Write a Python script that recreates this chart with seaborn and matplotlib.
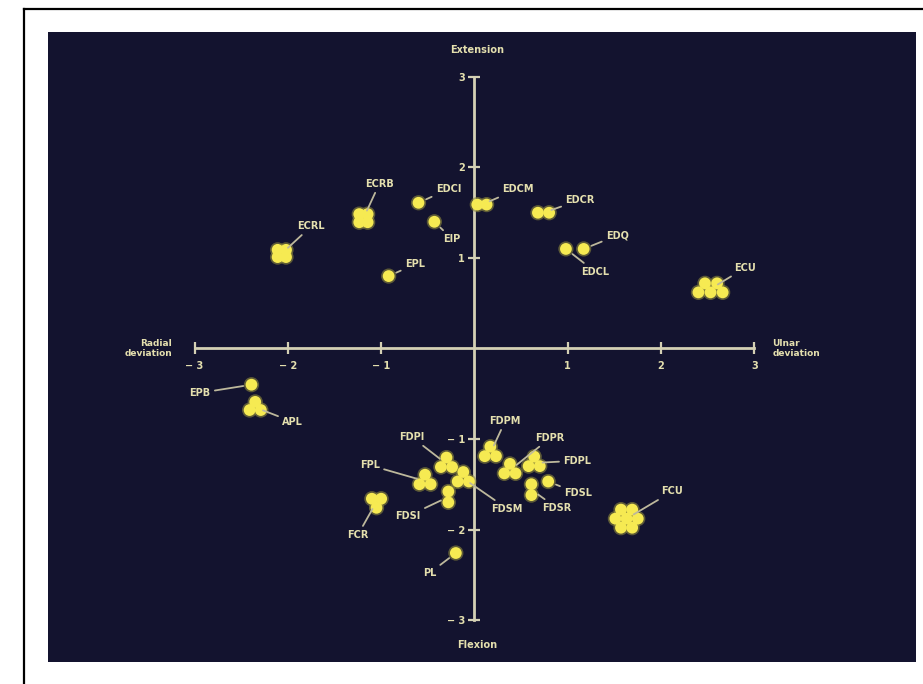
import numpy as np
import pandas as pd
import matplotlib
matplotlib.use("Agg")
import matplotlib.pyplot as plt
import seaborn as sns

# ---------------- data (one row per dot) ----------------
dot_muscle = (["ECRL"] * 4 + ["ECRB"] * 4 + ["EDCI", "EIP", "EPL"] + ["EDCM"] * 2 +
              ["EDCR"] * 2 + ["EDCL", "EDQ"] + ["ECU"] * 5 + ["EPB"] + ["APL"] * 3 +
              ["FDPI"] * 3 + ["FPL"] * 3 + ["FDSM"] * 3 + ["FDSI"] * 2 + ["FCR"] * 3 +
              ["PL"] + ["FDPM"] * 3 + ["FDPR"] * 3 + ["FDPL"] * 3 + ["FDSR"] * 2 +
              ["FDSL"] + ["FCU"] * 7)
dot_x = [-2.11, -2.02, -2.11, -2.02,
         -1.235, -1.145, -1.235, -1.145,
         -0.60, -0.43, -0.92,
         0.03, 0.13,
         0.68, 0.80,
         0.98, 1.17,
         2.47, 2.60, 2.40, 2.53, 2.66,
         -2.39,
         -2.35, -2.41, -2.29,
         -0.30, -0.36, -0.24,
         -0.53, -0.59, -0.47,
         -0.12, -0.18, -0.06,
         -0.28, -0.28,
         -1.10, -1.00, -1.05,
         -0.20,
         0.17, 0.11, 0.23,
         0.38, 0.32, 0.44,
         0.64, 0.58, 0.70,
         0.61, 0.61,
         0.79,
         1.75, 1.69, 1.57, 1.51, 1.57, 1.69, 1.63]
dot_y = [1.09, 1.09, 1.01, 1.01,
         1.485, 1.485, 1.395, 1.395,
         1.61, 1.40, 0.80,
         1.59, 1.59,
         1.50, 1.50,
         1.10, 1.10,
         0.72, 0.72, 0.62, 0.62, 0.62,
         -0.40,
         -0.59, -0.68, -0.68,
         -1.205, -1.31, -1.31,
         -1.395, -1.50, -1.50,
         -1.365, -1.47, -1.47,
         -1.58, -1.70,
         -1.66, -1.66, -1.76,
         -2.26,
         -1.085, -1.19, -1.19,
         -1.275, -1.38, -1.38,
         -1.195, -1.30, -1.30,
         -1.50, -1.62,
         -1.47,
         -1.88, -1.78, -1.78, -1.88, -1.98, -1.98, -1.88]

x_ticks = [-3, -2, -1, 1, 2, 3]
y_ticks = [-3, -2, -1, 1, 2, 3]
x_tick_labels = ["\u2212 3", "\u2212 2", "\u2212 1", "1", "2", "3"]
y_tick_labels = ["\u2212 3", "\u2212 2", "\u2212 1", "1", "2", "3"]

# label placement (layout only)
LABEL_POS = {
    "ECRL": (-1.75, 1.35), "ECRB": (-1.02, 1.82), "EDCI": (-0.28, 1.76),
    "EIP": (-0.24, 1.21), "EPL": (-0.64, 0.93), "EDCM": (0.46, 1.76),
    "EDCR": (1.13, 1.64), "EDQ": (1.53, 1.25), "EDCL": (1.29, 0.85),
    "ECU": (2.90, 0.89), "EPB": (-2.94, -0.49), "APL": (-1.95, -0.81),
    "FDPI": (-0.67, -0.98), "FPL": (-1.12, -1.29), "FDSI": (-0.71, -1.85),
    "FCR": (-1.25, -2.06), "PL": (-0.48, -2.48), "FDSM": (0.35, -1.77),
    "FDPM": (0.33, -0.80), "FDPR": (0.81, -0.99), "FDPL": (1.10, -1.24),
    "FDSL": (1.11, -1.60), "FDSR": (0.88, -1.76), "FCU": (2.12, -1.58),
}

BG = "#13132f"
CREAM = "#e4dfae"
LINE = "#d4d0b4"
DOT = "#f6ea52"
GLOW = "#8f8a3c"

df = pd.DataFrame({"muscle": dot_muscle, "x": dot_x, "y": dot_y})

fig = plt.figure(figsize=(9.23, 6.84), dpi=100, facecolor="white")
W, H = 923.0, 684.0

# outer black frame (top and left visible)
fig.add_artist(plt.Line2D([24 / W, 1.0], [1 - 9 / H, 1 - 9 / H], color="black", lw=1.6,
                          transform=fig.transFigure))
fig.add_artist(plt.Line2D([24 / W, 24 / W], [1 - 9 / H, 0.0], color="black", lw=1.6,
                          transform=fig.transFigure))

ax = fig.add_axes([48 / W, (H - 662) / H, (916 - 48) / W, (662 - 32) / H])
ax.set_facecolor(BG)
ax.set_xlim(-4.571, 4.732)
ax.set_ylim(-3.464, 3.497)

# soft glow then dots
sns.scatterplot(data=df, x="x", y="y", ax=ax, s=120, color=GLOW, alpha=0.6,
                edgecolor="none", legend=False, zorder=3)
sns.scatterplot(data=df, x="x", y="y", ax=ax, s=72, color=DOT,
                edgecolor="none", legend=False, zorder=4)

# cross axes via spines at zero
for side in ["top", "right"]:
    ax.spines[side].set_visible(False)
for side in ["left", "bottom"]:
    ax.spines[side].set_position("zero")
    ax.spines[side].set_bounds(-3, 3)
    ax.spines[side].set_color(LINE)
    ax.spines[side].set_linewidth(2.0)
    ax.spines[side].set_zorder(2)

ax.set_xticks(x_ticks)
ax.set_xticklabels(x_tick_labels)
ax.set_yticks(y_ticks)
ax.set_yticklabels(y_tick_labels)
ax.tick_params(axis="both", direction="inout", length=8, width=1.6, color=LINE,
               labelcolor=CREAM, labelsize=7)
ax.tick_params(axis="x", pad=5)
ax.tick_params(axis="y", pad=3)
for lab in ax.get_xticklabels() + ax.get_yticklabels():
    lab.set_fontweight("bold")
ax.set_xlabel("")
ax.set_ylabel("")

# muscle labels with leader lines
centers = df.groupby("muscle")[["x", "y"]].mean()
for name, (tx, ty) in LABEL_POS.items():
    cx, cy = centers.loc[name, "x"], centers.loc[name, "y"]
    ax.annotate(name, xy=(cx, cy), xytext=(tx, ty), textcoords="data",
                ha="center", va="center", fontsize=7, fontweight="bold", color=CREAM,
                arrowprops=dict(arrowstyle="-", color="#bdb89c", lw=1.3,
                                shrinkA=1, shrinkB=6), zorder=5)

# axis titles
ax.text(0.03, 3.30, "Extension", ha="center", va="center", fontsize=7,
        fontweight="bold", color=CREAM)
ax.text(0.03, -3.28, "Flexion", ha="center", va="center", fontsize=7,
        fontweight="bold", color=CREAM)
ax.text(-3.24, 0.0, "Radial\ndeviation", ha="right", va="center", fontsize=6.5,
        fontweight="bold", color=CREAM, linespacing=1.1)
ax.text(3.19, 0.0, "Ulnar\ndeviation", ha="left", va="center", fontsize=6.5,
        fontweight="bold", color=CREAM, linespacing=1.1)

fig.savefig("out.png", dpi=100, facecolor="white")
